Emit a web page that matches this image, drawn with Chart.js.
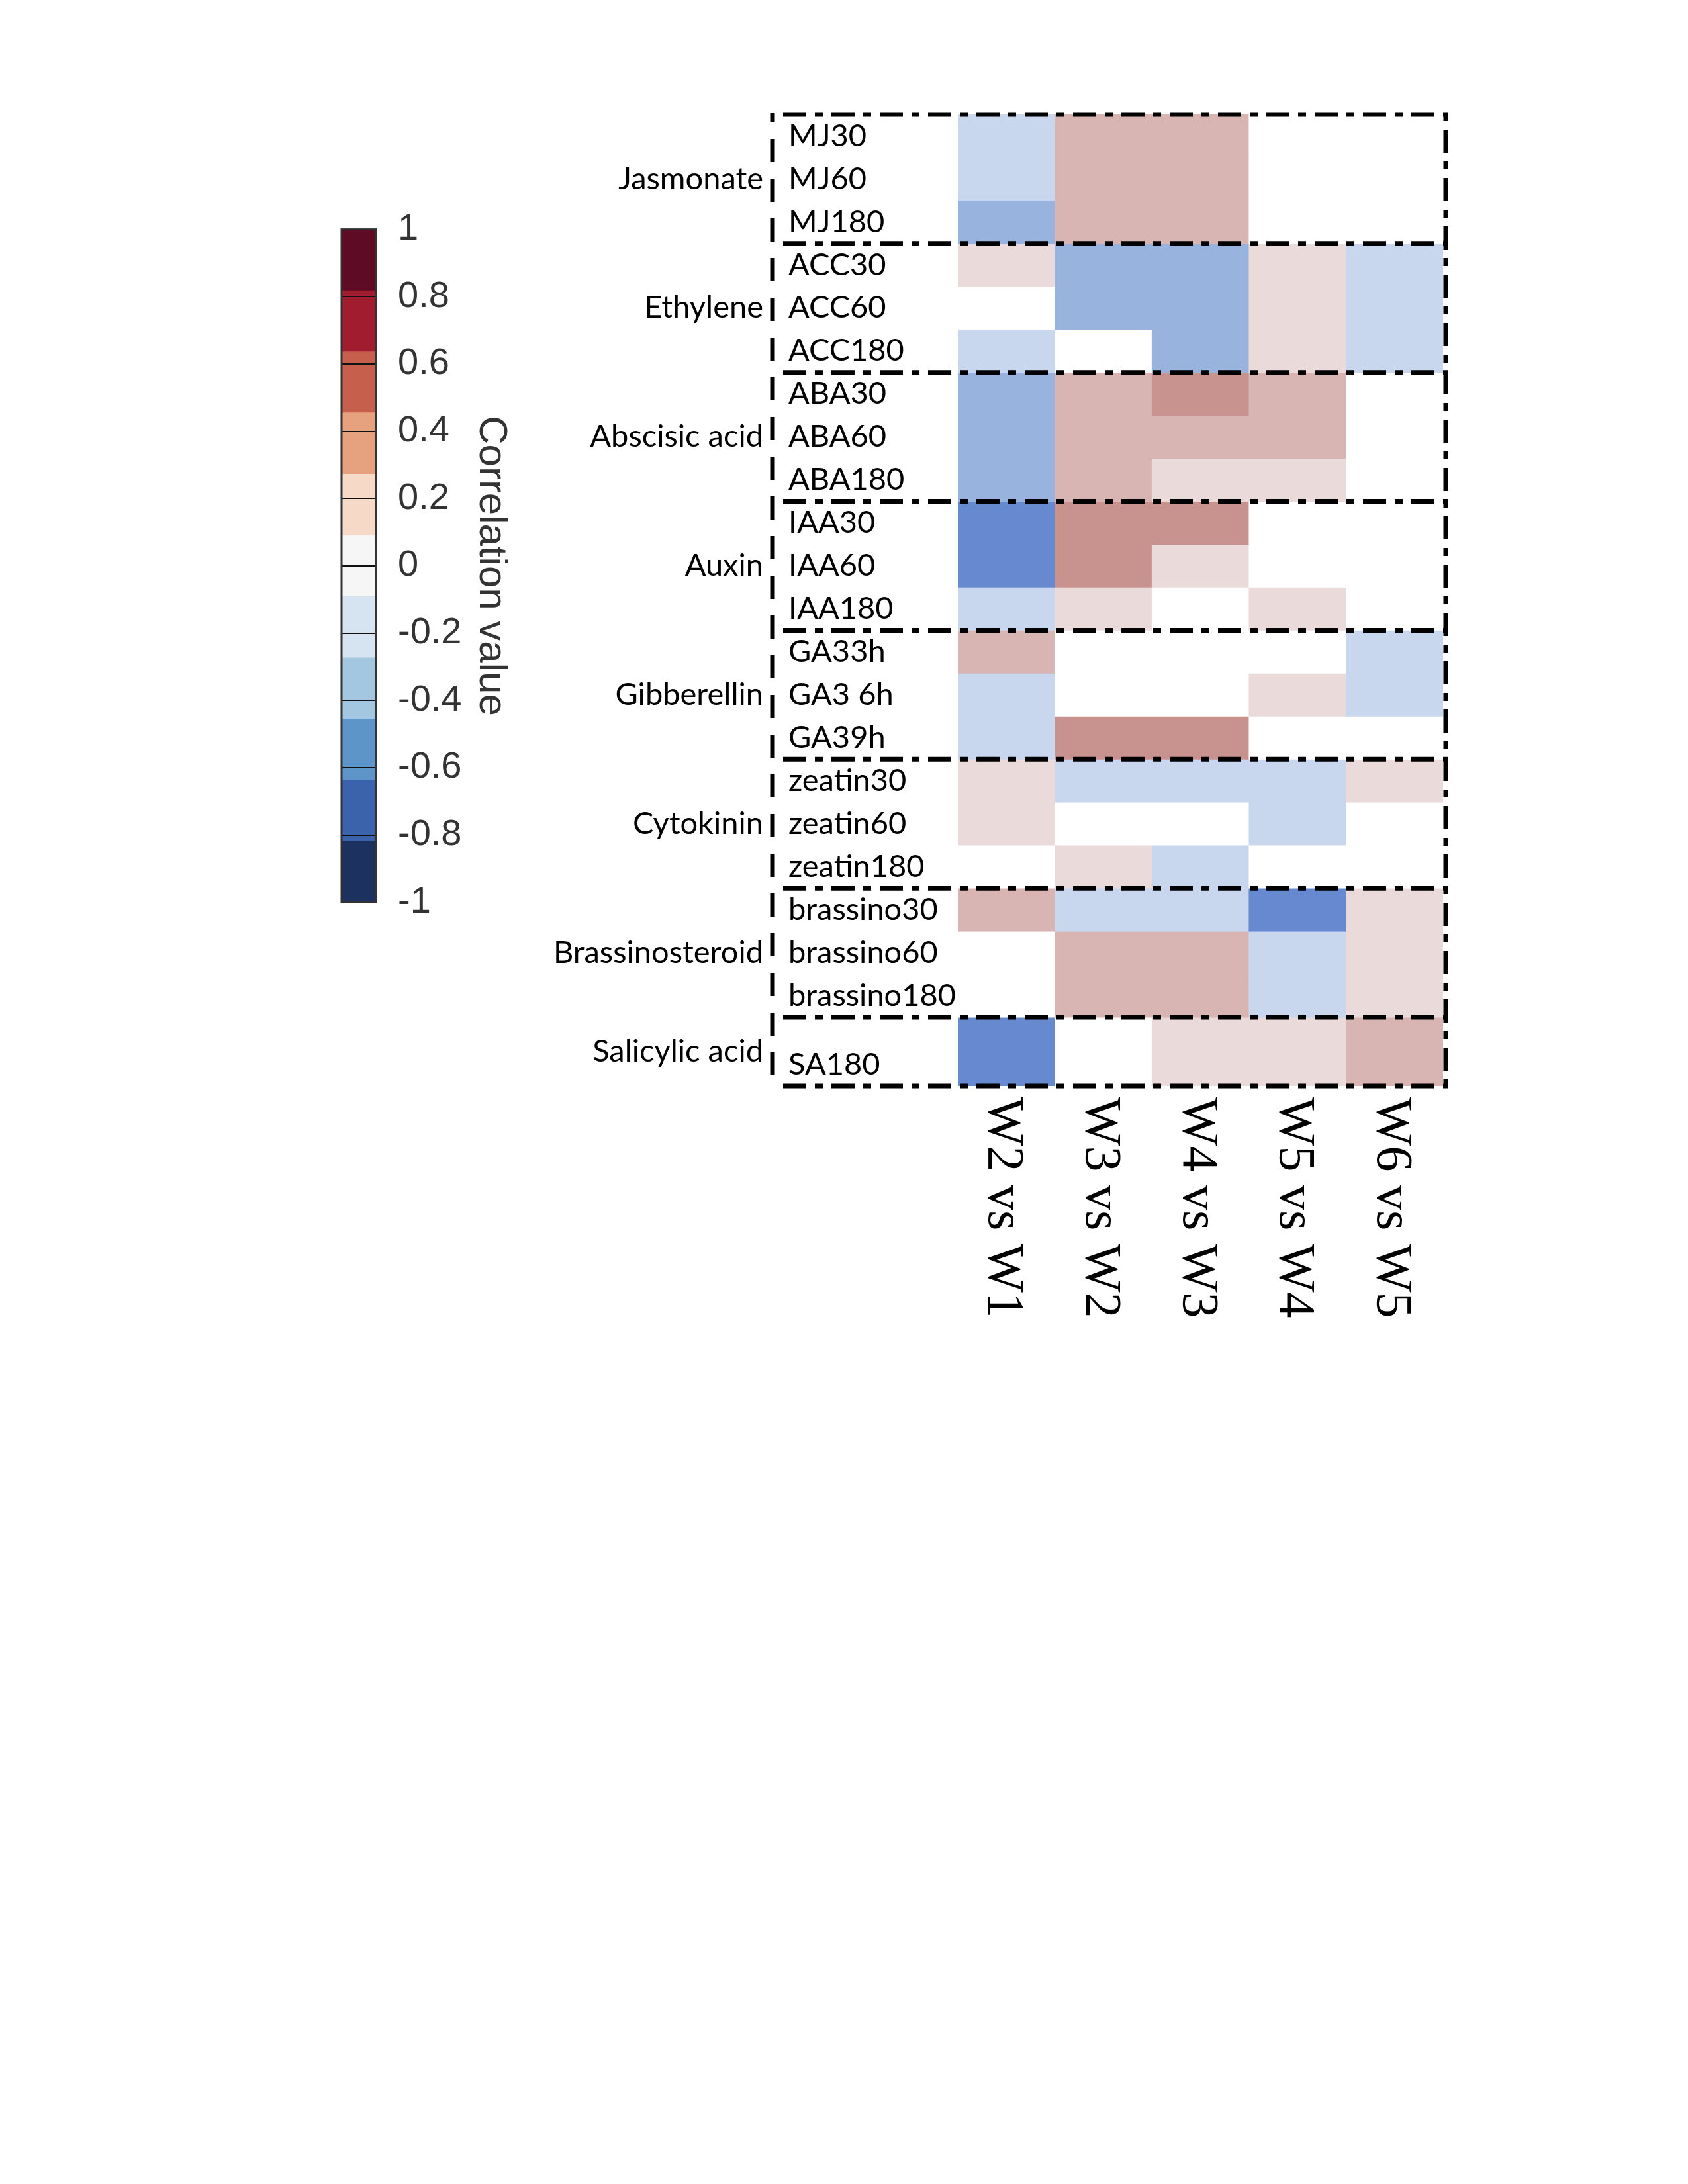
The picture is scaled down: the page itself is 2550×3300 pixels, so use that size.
<!DOCTYPE html>
<html>
<head>
<meta charset="utf-8">
<script src="https://cdn.jsdelivr.net/npm/chart.js@4.4.1/dist/chart.umd.min.js"></script>
<style>
html,body{margin:0;padding:0;background:#ffffff;}
body{width:2550px;height:3300px;position:relative;overflow:hidden;}
canvas{position:absolute;}
#cb{left:400px;top:280px;}
#hm{left:700px;top:100px;}
</style>
</head>
<body>
<canvas id="cb" width="500" height="1150"></canvas>
<canvas id="hm" width="1600" height="2000"></canvas>
<script>
// ---------------- DATA ----------------
const comparisons = ['W2 vs W1', 'W3 vs W2', 'W4 vs W3', 'W5 vs W4', 'W6 vs W5'];

const rowLabels = [
  'MJ30', 'MJ60', 'MJ180',
  'ACC30', 'ACC60', 'ACC180',
  'ABA30', 'ABA60', 'ABA180',
  'IAA30', 'IAA60', 'IAA180',
  'GA33h', 'GA3 6h', 'GA39h',
  'zeatin30', 'zeatin60', 'zeatin180',
  'brassino30', 'brassino60', 'brassino180',
  'SA180'
];

const groupLabels = ['Jasmonate', 'Ethylene', 'Abscisic acid', 'Auxin', 'Gibberellin', 'Cytokinin', 'Brassinosteroid', 'Salicylic acid'];
const groupRowCounts = [3, 3, 3, 3, 3, 3, 3, 1];

// correlation value per row (columns follow `comparisons`)
const MJ30 = [-0.2, 0.4, 0.4, 0, 0];
const MJ60 = [-0.2, 0.4, 0.4, 0, 0];
const MJ180 = [-0.4, 0.4, 0.4, 0, 0];
const ACC30 = [0.2, -0.4, -0.4, 0.2, -0.2];
const ACC60 = [0, -0.4, -0.4, 0.2, -0.2];
const ACC180 = [-0.2, 0, -0.4, 0.2, -0.2];
const ABA30 = [-0.4, 0.4, 0.6, 0.4, 0];
const ABA60 = [-0.4, 0.4, 0.4, 0.4, 0];
const ABA180 = [-0.4, 0.4, 0.2, 0.2, 0];
const IAA30 = [-0.6, 0.6, 0.6, 0, 0];
const IAA60 = [-0.6, 0.6, 0.2, 0, 0];
const IAA180 = [-0.2, 0.2, 0, 0.2, 0];
const GA33h = [0.4, 0, 0, 0, -0.2];
const GA36h = [-0.2, 0, 0, 0.2, -0.2];
const GA39h = [-0.2, 0.6, 0.6, 0, 0];
const zeatin30 = [0.2, -0.2, -0.2, -0.2, 0.2];
const zeatin60 = [0.2, 0, 0, -0.2, 0];
const zeatin180 = [0, 0.2, -0.2, 0, 0];
const brassino30 = [0.4, -0.2, -0.2, -0.6, 0.2];
const brassino60 = [0, 0.4, 0.4, -0.2, 0.2];
const brassino180 = [0, 0.4, 0.4, -0.2, 0.2];
const SA180 = [-0.6, 0, 0.2, 0.2, 0.4];

const correlation = [MJ30, MJ60, MJ180, ACC30, ACC60, ACC180, ABA30, ABA60, ABA180,
  IAA30, IAA60, IAA180, GA33h, GA36h, GA39h, zeatin30, zeatin60, zeatin180,
  brassino30, brassino60, brassino180, SA180];

// colour bar
const colorbarEdges = [-1, -0.818, -0.636, -0.455, -0.273, -0.091, 0.091, 0.273, 0.455, 0.636, 0.818, 1];
const colorbarTickValues = [-1, -0.8, -0.6, -0.4, -0.2, 0, 0.2, 0.4, 0.6, 0.8, 1];
const colorbarTickLabels = ['-1', '-0.8', '-0.6', '-0.4', '-0.2', '0', '0.2', '0.4', '0.6', '0.8', '1'];

// ---------------- STYLE / LAYOUT ----------------
const colorbarColors = ['#1D3160', '#3B63AB', '#5E95C8', '#A3C7E0', '#D5E4F0', '#F6F6F6',
  '#F6D9C6', '#E6A27F', '#C6604C', '#A11C2F', '#5E0B25'];
const cellPalette = {
  '-0.6': '#6789D0', '-0.4': '#99B3DF', '-0.2': '#C8D7EE', '0': '#FFFFFF',
  '0.2': '#EBDADA', '0.4': '#D8B4B3', '0.6': '#C8938F'
};
const colorFor = v => cellPalette[String(v)] || '#FFFFFF';

const LAST_ROW_SPAN = 1.6;      // SA180 row is taller
const LAST_LABEL_SHIFT = 0.3;   // SA180 label sits low in its row
const rowSpan = rowLabels.map((_, i) => i === rowLabels.length - 1 ? LAST_ROW_SPAN : 1);
const rowStart = [];
rowSpan.reduce((acc, s, i) => { rowStart[i] = acc; return acc + s; }, 0);
const totalRows = rowStart[rowStart.length - 1] + rowSpan[rowSpan.length - 1];
const rowTickPositions = rowStart.map((s, i) => s + rowSpan[i] / 2 + (i === rowLabels.length - 1 ? LAST_LABEL_SHIFT : 0));

const groupBoundaries = [0];
const groupCenters = [];
{
  let r = 0;
  groupRowCounts.forEach(n => {
    const top = rowStart[r];
    const bottom = rowStart[r + n - 1] + rowSpan[r + n - 1];
    groupCenters.push((top + bottom) / 2);
    groupBoundaries.push(bottom);
    r += n;
  });
}

// ---------------- HEATMAP ----------------
const heatDatasets = rowLabels.map((name, r) => ({
  label: name,
  data: comparisons.map(() => [rowStart[r], rowStart[r] + rowSpan[r]]),
  backgroundColor: correlation[r].map(colorFor),
  borderWidth: 0,
  grouped: false,
  barPercentage: 1,
  categoryPercentage: 1
}));

const heatDecor = {
  id: 'heatDecor',
  afterDraw(chart) {
    const { ctx, chartArea: a, scales: { x, y } } = chart;
    ctx.save();
    // group labels
    ctx.font = '47px Lato';
    ctx.fillStyle = '#000';
    ctx.textAlign = 'right';
    ctx.textBaseline = 'middle';
    groupLabels.forEach((g, i) => ctx.fillText(g, a.left - 294, y.getPixelForValue(groupCenters[i])));
    // column labels (rotated clockwise)
    ctx.font = '78px "Liberation Serif"';
    ctx.textAlign = 'left';
    ctx.textBaseline = 'alphabetic';
    comparisons.forEach((lab, i) => {
      const px = x.getPixelForValue(i);
      ctx.save();
      ctx.translate(px - 26, a.bottom + 17);
      ctx.rotate(Math.PI / 2);
      ctx.fillText(lab, 0, 0);
      ctx.restore();
    });
    // dash-dot group boxes
    const boxLeft = a.left - 280, lineStart = a.left - 264, boxRight = a.right + 4;
    const yTop = y.getPixelForValue(0), yBot = y.getPixelForValue(totalRows);
    ctx.strokeStyle = '#000';
    ctx.lineWidth = 7;
    ctx.lineCap = 'butt';
    ctx.setLineDash([35, 13, 12, 13]);
    groupBoundaries.forEach(b => {
      const py = y.getPixelForValue(b);
      ctx.beginPath(); ctx.moveTo(lineStart, py); ctx.lineTo(boxRight + 3, py); ctx.stroke();
    });
    ctx.lineDashOffset = 50;
    ctx.beginPath(); ctx.moveTo(boxRight, yTop); ctx.lineTo(boxRight, yBot); ctx.stroke();
    ctx.setLineDash([35, 25]);
    ctx.lineDashOffset = 20;
    ctx.beginPath(); ctx.moveTo(boxLeft, yTop - 3); ctx.lineTo(boxLeft, yBot); ctx.stroke();
    ctx.restore();
  }
};

new Chart(document.getElementById('hm'), {
  type: 'bar',
  data: { labels: comparisons, datasets: heatDatasets },
  options: {
    responsive: false,
    animation: false,
    devicePixelRatio: 1,
    layout: { padding: { left: 491, top: 73, right: 120, bottom: 459 } },
    plugins: { legend: { display: false }, tooltip: { enabled: false } },
    scales: {
      x: { display: false },
      y: {
        type: 'linear',
        reverse: true,
        min: 0,
        max: totalRows,
        afterBuildTicks(axis) { axis.ticks = rowTickPositions.map(v => ({ value: v })); },
        afterFit(axis) { axis.width = 256; },
        ticks: {
          autoSkip: false,
          crossAlign: 'far',
          font: { family: 'Lato', size: 47 },
          color: '#000',
          callback: (v, i) => rowLabels[i]
        },
        grid: { display: false },
        border: { display: false }
      }
    }
  },
  plugins: [heatDecor]
});

// ---------------- COLOUR BAR ----------------
const cbOutline = {
  id: 'cbOutline',
  afterDraw(chart) {
    const { ctx, chartArea: a } = chart;
    ctx.save();
    ctx.strokeStyle = '#333';
    ctx.lineWidth = 3;
    ctx.strokeRect(a.left, a.top, a.right - a.left, a.bottom - a.top);
    ctx.restore();
  }
};

new Chart(document.getElementById('cb'), {
  type: 'bar',
  data: {
    labels: ['Correlation value'],
    datasets: colorbarColors.map((c, i) => ({
      data: [[colorbarEdges[i], colorbarEdges[i + 1]]],
      backgroundColor: c,
      borderWidth: 0,
      grouped: false,
      barPercentage: 1,
      categoryPercentage: 1
    }))
  },
  options: {
    responsive: false,
    animation: false,
    devicePixelRatio: 1,
    layout: { padding: { left: 116, top: 62, bottom: 63, right: 122 } },
    plugins: { legend: { display: false }, tooltip: { enabled: false } },
    scales: {
      x: { display: false },
      y: {
        type: 'linear',
        position: 'right',
        min: -1,
        max: 1,
        afterBuildTicks(axis) { axis.ticks = colorbarTickValues.map(v => ({ value: v })); },
        afterFit(axis) { axis.width = 210; },
        ticks: {
          autoSkip: false,
          padding: 33,
          font: { family: 'Liberation Sans', size: 56 },
          color: '#333',
          callback: (v, i) => colorbarTickLabels[i]
        },
        grid: { color: '#111', lineWidth: 2, drawTicks: false, drawOnChartArea: true, z: 1 },
        border: { display: false },
        title: {
          display: true,
          text: 'Correlation value',
          font: { family: 'Liberation Sans', size: 60 },
          color: '#333',
          padding: 0
        }
      }
    }
  },
  plugins: [cbOutline]
});
</script>
</body>
</html>
